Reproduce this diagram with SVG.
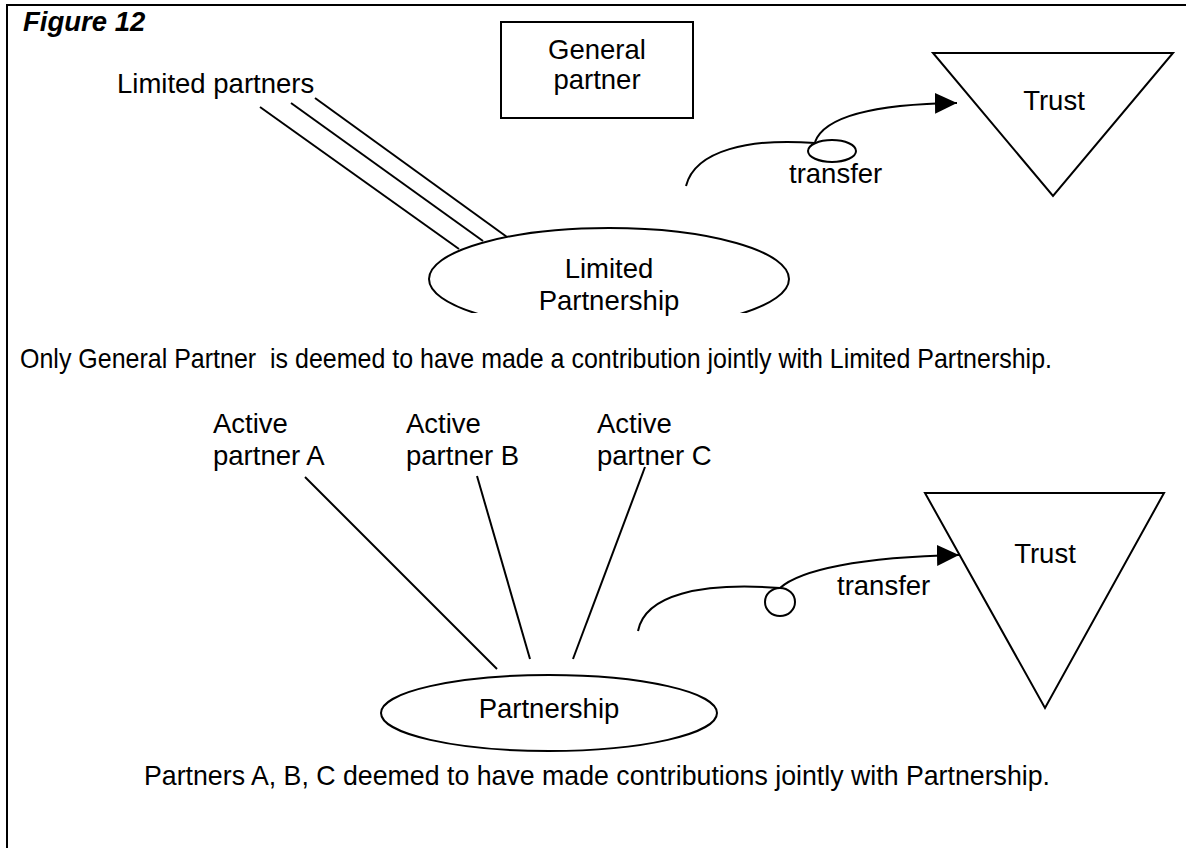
<svg xmlns="http://www.w3.org/2000/svg" width="1186" height="848" viewBox="0 0 1186 848">
<style>
text{font-family:"Liberation Sans",Arial,sans-serif;font-size:27.5px;fill:#000}
.c{text-anchor:middle}
.s{fill:none;stroke:#000;stroke-width:2}
.t{fill:#fff;stroke:#000;stroke-width:2}
</style>
<defs>
<marker id="ah" markerUnits="userSpaceOnUse" markerWidth="22" markerHeight="22" viewBox="0 0 20 20" refX="20" refY="10" orient="auto">
<path d="M0,0.5 L20,10 L0,19.5 Z" fill="#000"/>
</marker>
<clipPath id="cut"><rect x="0" y="0" width="1186" height="313"/></clipPath>
</defs>
<rect width="1186" height="848" fill="#fff"/>
<g id="frame">
<path class="s" d="M7,848 V5 H1186" stroke-width="3"/>
<text x="23" y="31" font-weight="bold" font-style="italic" font-size="26">Figure 12</text>
</g>
<g id="connectors">
<path class="s" d="M260,107 L459,249"/>
<path class="s" d="M291,103 L483,241"/>
<path class="s" d="M315,98 L507,237"/>
<path class="s" d="M686,186 C695,150 750,138 815,143"/>
<path class="s" d="M815,142 C825,115 880,104 957,103" marker-end="url(#ah)"/>
<path class="s" d="M305,477 L497,669"/>
<path class="s" d="M477,476 L530,659"/>
<path class="s" d="M645,467 L573,659"/>
<path class="s" d="M638,631 C645,595 700,582 780,588"/>
<path class="s" d="M780,588 C800,570 860,557 959,555" marker-end="url(#ah)"/>
</g>
<g id="limited-partners">
<text x="117" y="93">Limited partners</text>
</g>
<g id="general-partner">
<rect class="t" x="501" y="22" width="192" height="96"/>
<text class="c" x="597" y="59">General</text>
<text class="c" x="597" y="89">partner</text>
</g>
<g id="trust-1">
<path class="t" d="M933,53 L1173,53 L1053,196 Z"/>
<text class="c" x="1054" y="110">Trust</text>
</g>
<g id="transfer-1">
<ellipse class="t" cx="832" cy="151" rx="24" ry="11"/>
<text x="789" y="183" font-size="26.5">transfer</text>
</g>
<g id="limited-partnership">
<ellipse class="t" cx="609" cy="279" rx="180" ry="51" clip-path="url(#cut)"/>
<text class="c" x="609" y="278">Limited</text>
<text class="c" x="609" y="310">Partnership</text>
</g>
<g id="caption-1">
<text x="20" y="368" font-size="25.5" textLength="1032" lengthAdjust="spacingAndGlyphs" xml:space="preserve">Only General Partner  is deemed to have made a contribution jointly with Limited Partnership.</text>
</g>
<g id="partner-a">
<text x="213" y="433">Active</text>
<text x="213" y="465">partner A</text>
</g>
<g id="partner-b">
<text x="406" y="433">Active</text>
<text x="406" y="465">partner B</text>
</g>
<g id="partner-c">
<text x="597" y="433">Active</text>
<text x="597" y="465">partner C</text>
</g>
<g id="trust-2">
<path class="t" d="M925,493 L1164,493 L1045,708 Z"/>
<text class="c" x="1045" y="563">Trust</text>
</g>
<g id="transfer-2">
<ellipse class="t" cx="780" cy="602" rx="15" ry="14"/>
<text x="837" y="595">transfer</text>
</g>
<g id="partnership">
<ellipse class="t" cx="549" cy="713" rx="168" ry="38"/>
<text class="c" x="549" y="718">Partnership</text>
</g>
<g id="caption-2">
<text x="144" y="785" font-size="26" textLength="906" lengthAdjust="spacingAndGlyphs">Partners A, B, C deemed to have made contributions jointly with Partnership.</text>
</g>
</svg>
